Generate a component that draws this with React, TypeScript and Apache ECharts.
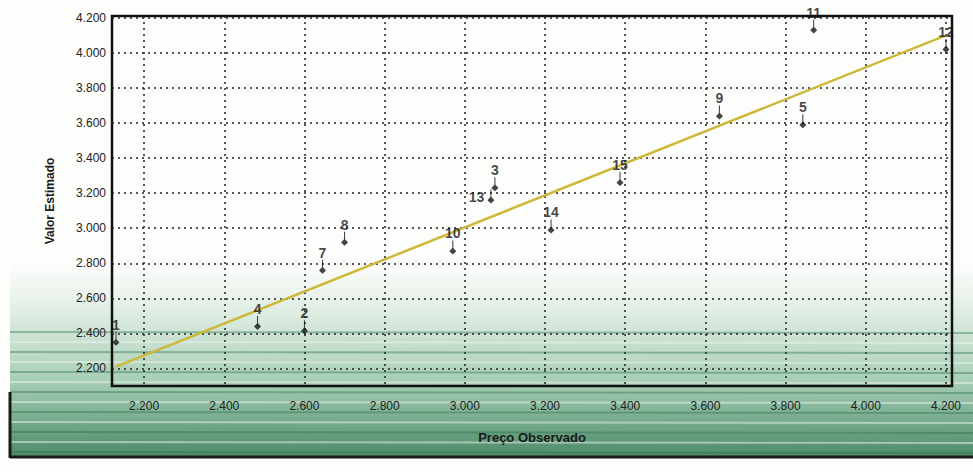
import React, { useEffect, useRef } from "react";
import * as echarts from "echarts";

const pointIds = ["1", "2", "3", "4", "5", "7", "8", "9", "10", "11", "12", "13", "14", "15"];
const observed = [2130, 2600, 3075, 2483, 3843, 2645, 2700, 3635, 2970, 3870, 4200, 3065, 3215, 3387];
const estimated = [2350, 2415, 3230, 2440, 3590, 2760, 2920, 3640, 2870, 4130, 4020, 3160, 2990, 3260];
const fitLine = [
  [2130, 2210],
  [4200, 4100],
];
const xTicks = [2200, 2400, 2600, 2800, 3000, 3200, 3400, 3600, 3800, 4000, 4200];
const yTicks = [2200, 2400, 2600, 2800, 3000, 3200, 3400, 3600, 3800, 4000, 4200];

const fmt = (v: number) => String(Math.round(v)).replace(/\B(?=(\d{3})+(?!\d))/g, ".");

const pinPath = "path://M4.4,0 L5.6,0 L5.6,8 L9,11.5 L5,15 L1,11.5 L4.4,8 Z";

export default function App() {
  const ref = useRef<HTMLDivElement>(null);
  useEffect(() => {
    if (!ref.current) return;
    const chart = echarts.init(ref.current, undefined, { renderer: "svg" });
    const stripes: any[] = [];
    for (let i = 0; i < 13; i++) {
      const y = 332 + i * 10;
      stripes.push({
        type: "line",
        z: -9,
        silent: true,
        shape: { x1: 10, y1: y, x2: 973, y2: y + 1 },
        style: { stroke: i % 2 === 0 ? "rgba(40,110,75,0.4)" : "rgba(235,245,238,0.5)", lineWidth: 2 },
      });
    }
    chart.setOption({
      animation: false,
      backgroundColor: "#fdfdfb",
      graphic: [
        {
          type: "rect",
          z: -10,
          silent: true,
          shape: { x: 10, y: 262, width: 963, height: 196 },
          style: {
            fill: new echarts.graphic.LinearGradient(0, 0, 0, 1, [
              { offset: 0, color: "rgba(225,238,230,0)" },
              { offset: 0.3, color: "#d8e9dd" },
              { offset: 0.6, color: "#a9cfb8" },
              { offset: 1, color: "#4a8a67" },
            ]),
          },
        },
        ...stripes,
        {
          type: "line",
          z: -8,
          silent: true,
          shape: { x1: 10, y1: 457, x2: 973, y2: 457 },
          style: { stroke: "#1a1a1a", lineWidth: 3 },
        },
        {
          type: "line",
          z: -8,
          silent: true,
          shape: { x1: 10, y1: 392, x2: 10, y2: 458 },
          style: { stroke: "#1a1a1a", lineWidth: 3 },
        },
      ],
      grid: {
        left: 112,
        right: 21,
        top: 16,
        bottom: 86,
        show: true,
        borderColor: "#111",
        borderWidth: 2.5,
        backgroundColor: "transparent",
      },
      xAxis: {
        type: "value",
        min: 2120,
        max: 4215,
        name: "Preço Observado",
        nameLocation: "middle",
        nameGap: 45,
        nameTextStyle: { fontFamily: "Liberation Sans", fontWeight: "bold", fontSize: 13, color: "#1a1a1a" },
        axisLine: { show: false },
        axisTick: { show: false, customValues: xTicks },
        axisLabel: {
          customValues: xTicks,
          formatter: (v: number) => fmt(v),
          fontFamily: "Liberation Sans",
          fontSize: 12,
          color: "#222",
          margin: 14,
        },
        splitLine: { show: true, lineStyle: { color: "#222", type: [2, 4], width: 1.5 } },
      },
      yAxis: {
        type: "value",
        min: 2100,
        max: 4210,
        name: "Valor Estimado",
        nameLocation: "middle",
        nameGap: 56,
        nameTextStyle: { fontFamily: "Liberation Sans", fontWeight: "bold", fontSize: 12, color: "#1a1a1a" },
        axisLine: { show: false },
        axisTick: { show: false, customValues: yTicks },
        axisLabel: {
          customValues: yTicks,
          formatter: (v: number) => fmt(v),
          fontFamily: "Liberation Sans",
          fontSize: 12,
          color: "#222",
          margin: 6,
        },
        splitLine: { show: true, lineStyle: { color: "#222", type: [2, 4], width: 1.5 } },
      },
      series: [
        {
          type: "line",
          data: fitLine,
          symbol: "none",
          z: 3,
          lineStyle: { color: "#cdb83a", width: 2.5 },
        },
        {
          type: "scatter",
          z: 4,
          data: observed.map((x, i) => ({
            value: [x, estimated[i]],
            label: pointIds[i] === "13" ? { position: "left", distance: 3 } : undefined,
          })),
          symbol: pinPath,
          symbolSize: [7, 14],
          symbolOffset: [0, -3.5],
          itemStyle: { color: "#151515" },
          label: {
            show: true,
            position: "top",
            distance: 0,
            formatter: (p: any) => pointIds[p.dataIndex],
            fontFamily: "Liberation Sans",
            fontWeight: "bold",
            fontSize: 14,
            color: "#151515",
          },
        },
      ],
    });
    return () => chart.dispose();
  }, []);
  return <div ref={ref} style={{ position: "fixed", left: 0, top: 0, width: 973, height: 472 }} />;
}
